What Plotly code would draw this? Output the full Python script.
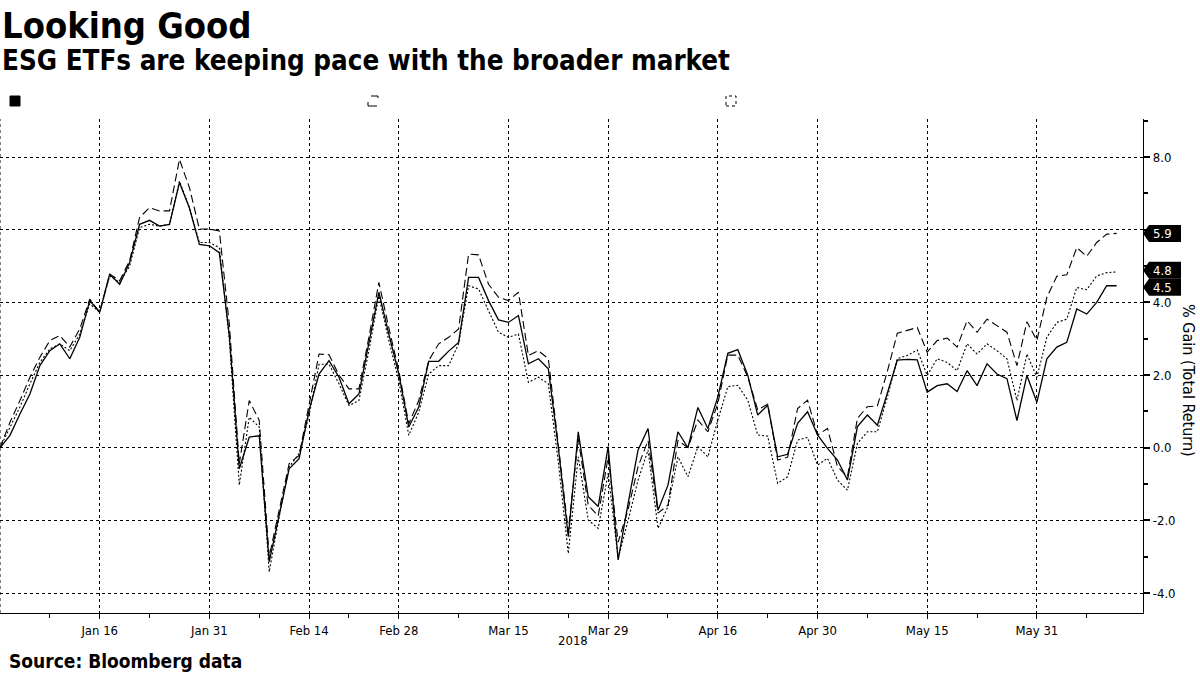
import pandas as pd
import plotly.graph_objects as go

# ---------------- data ----------------
holidays = ["2018-01-01", "2018-01-15", "2018-02-19", "2018-03-30", "2018-05-28"]
dates = [d for d in pd.bdate_range("2017-12-29", "2018-06-12").strftime("%Y-%m-%d") if d not in holidays]

solid = [0, 0.34, 0.93, 1.48, 2.26, 2.67, 2.86, 2.45, 3.04, 4.05, 3.73, 4.78, 4.5, 5.1, 6.15, 6.26, 6.1, 6.15,
         7.3, 6.6, 5.6, 5.56, 5.37, 3.1, -0.58, 0.29, 0.33, -3.14, -1.86, -0.58, -0.3, 1.03, 2.03, 2.4, 1.94,
         1.21, 1.48, 2.86, 4.28, 3.13, 2.03, 0.57, 1.12, 2.38, 2.38, 2.66, 2.9, 4.69, 4.69, 4.05, 3.52, 3.45,
         3.64, 2.31, 2.45, 2.17, 0.0, -2.45, 0.44, -1.35, -1.62, 0.03, -3.09, -1.53, -0.06, 0.53, -1.72, -1.03,
         0.44, 0.0, 1.11, 0.53, 1.4, 2.6, 2.7, 2.0, 0.9, 1.17, -0.25, -0.18, 0.67, 0.99, 0.35, -0.02, -0.34,
         -0.89, 0.58, 0.9, 0.62, 1.5, 2.41, 2.43, 2.42, 1.53, 1.71, 1.76, 1.55, 2.12, 1.71, 2.31, 2.03, 1.9,
         0.75, 1.99, 1.25, 2.45, 2.77, 2.9, 3.82, 3.68, 4.0, 4.46, 4.46]

dashed = [0, 0.7, 1.3, 1.94, 2.49, 2.95, 3.09, 2.77, 3.27, 4.09, 3.73, 4.78, 4.6, 5.15, 6.34, 6.61, 6.52, 6.52,
          7.94, 7.16, 6.02, 6.02, 5.97, 3.4, -0.44, 1.3, 0.75, -3.0, -1.72, -0.44, -0.21, 1.2, 2.58, 2.56, 2.0,
          1.62, 1.62, 3.04, 4.55, 3.3, 2.12, 0.66, 1.3, 2.4, 2.86, 3.04, 3.27, 5.33, 5.31, 4.5, 4.14, 4.05,
          4.28, 2.54, 2.67, 2.45, 0.1, -2.3, 0.25, -1.58, -1.88, -0.25, -2.6, -1.7, -0.52, 0.2, -1.8, -1.58,
          0.2, 0.0, 0.76, 0.44, 1.22, 2.55, 2.55, 1.95, 1.04, 1.2, -0.34, -0.26, 1.08, 1.31, 0.35, 0.53, -0.52,
          -0.8, 0.81, 1.13, 1.15, 2.1, 3.15, 3.24, 3.31, 2.63, 2.95, 3.02, 2.77, 3.5, 3.18, 3.54, 3.36, 3.18,
          2.26, 3.47, 2.95, 4.14, 4.72, 4.76, 5.51, 5.27, 5.65, 5.88, 5.9]

dotted = [0, 0.57, 1.12, 1.76, 2.35, 2.72, 2.86, 2.67, 3.13, 3.96, 3.73, 4.73, 4.55, 5.0, 6.06, 6.15, 6.1, 6.15,
          7.34, 6.61, 5.65, 5.65, 5.51, 3.0, -1.03, 0.84, 0.57, -3.42, -1.9, -0.53, -0.16, 0.9, 2.3, 2.3, 1.76,
          1.16, 1.3, 2.67, 4.18, 2.95, 1.85, 0.34, 0.98, 2.03, 2.26, 2.26, 2.86, 4.46, 4.37, 3.77, 3.18, 3.04,
          3.13, 1.8, 1.94, 1.76, -0.4, -2.91, -0.25, -1.99, -2.22, -0.7, -3.05, -2.0, -0.89, -0.06, -2.22, -1.62,
          -0.25, -0.8, 0.03, -0.25, 0.76, 1.68, 1.72, 1.31, 0.35, 0.32, -0.98, -0.8, 0.21, 0.28, -0.48, -0.29, -0.89,
          -1.17, 0.12, 0.44, 0.44, 1.39, 2.45, 2.54, 2.69, 1.99, 2.45, 2.35, 2.12, 2.86, 2.58, 2.86, 2.67, 2.45,
          1.3, 2.58, 1.94, 3.04, 3.45, 3.54, 4.41, 4.35, 4.73, 4.82, 4.84]

tick_dates = ["2018-01-16", "2018-01-31", "2018-02-14", "2018-02-28", "2018-03-15",
              "2018-03-29", "2018-04-16", "2018-04-30", "2018-05-15", "2018-05-31"]
tick_labels = ["Jan 16", "Jan 31", "Feb 14", "Feb 28", "Mar 15", "Mar 29", "Apr 16", "Apr 30", "May 15", "May 31"]
minor_dates = ["2018-01-08", "2018-01-23", "2018-02-07", "2018-02-21", "2018-03-08", "2018-03-23",
               "2018-04-09", "2018-04-23", "2018-05-07", "2018-05-22", "2018-06-07"]

y_tickvals = [-4, -2, 0, 2, 4, 6, 8]
y_ticktext = ["-4.0", "-2.0", "0.0", "2.0", "4.0", "", "8.0"]  # 6.0 is hidden behind the 5.9 flag

last_labels = ["5.9", "4.8", "4.5"]

# ---------------- geometry helpers ----------------
W, H = 1200, 675
L, R, T, B = 0, 1143, 119, 613
PW, PH = R - L, B - T


def px(x):
    return (x - L) / PW


def py(y):
    return (B - y) / PH


FONT = "DejaVu Sans Condensed, DejaVu Sans, sans-serif"

xi = list(range(len(dates)))
fig = go.Figure()
fig.add_trace(go.Scatter(x=xi, y=solid, mode="lines", line=dict(color="black", width=1.3), showlegend=False))
fig.add_trace(go.Scatter(x=xi, y=dashed, mode="lines", line=dict(color="black", width=1.1, dash="8px,4px"), showlegend=False))
fig.add_trace(go.Scatter(x=xi, y=dotted, mode="lines", line=dict(color="black", width=1.1, dash="2px,2px"), showlegend=False))

x_max = (R - L) / 9.97
y_rng = [-4.55, 9.05]

fig.update_layout(
    width=W, height=H,
    margin=dict(l=L, r=W - R, t=T, b=H - B, pad=0),
    paper_bgcolor="white", plot_bgcolor="white",
    font=dict(family=FONT, color="black", size=13),
    showlegend=False,
    xaxis=dict(
        range=[0, x_max], tickmode="array",
        tickvals=[dates.index(d) for d in tick_dates], ticktext=tick_labels,
        ticks="outside", ticklen=5, tickcolor="black", tickwidth=1,
        showgrid=True, gridcolor="black", griddash="dot", gridwidth=1,
        showline=True, linecolor="black", linewidth=1.3, zeroline=False,
        tickfont=dict(size=13, family=FONT),
        minor=dict(tickmode="array", tickvals=[dates.index(d) for d in minor_dates],
                   ticks="outside", ticklen=4, tickcolor="black", showgrid=False),
    ),
    yaxis=dict(
        side="right", range=y_rng, tickmode="array",
        tickvals=y_tickvals, ticktext=y_ticktext,
        ticks="outside", ticklen=6, tickcolor="black", tickwidth=1.5,
        showgrid=True, gridcolor="black", griddash="dot", gridwidth=1,
        showline=True, linecolor="black", linewidth=1.3, zeroline=False,
        tickfont=dict(size=13, family=FONT),
        minor=dict(tickmode="array", tickvals=[-3, -1, 1, 3, 5, 7, 9],
                   ticks="outside", ticklen=4, tickcolor="black", showgrid=False),
    ),
)

shapes = []
# left border dotted
shapes.append(dict(type="line", xref="paper", yref="paper", x0=0, x1=0, y0=0, y1=1,
                   line=dict(color="black", width=1, dash="dot")))


# legend swatches
def sq(x0, dash, fill):
    return dict(type="rect", xref="paper", yref="paper", x0=px(x0), x1=px(x0 + 10), y0=py(106), y1=py(96),
                line=dict(color="black", width=1, dash=dash), fillcolor=fill)


shapes.append(sq(10, "solid", "black"))
shapes.append(sq(368, "dash", "white"))
shapes.append(sq(726, "dot", "white"))

# end-value flags
box_h = 17 / PH * (y_rng[1] - y_rng[0])  # box height in data units
mid = (dotted[-1] + solid[-1]) / 2
centers = [dashed[-1], mid + box_h / 2, mid - box_h / 2]
for c in centers:
    y0, y1 = c - box_h / 2, c + box_h / 2
    path = (f"M {px(1143)} {c} L {px(1149)} {y1} L {px(1181)} {y1} "
            f"L {px(1181)} {y0} L {px(1149)} {y0} Z")
    shapes.append(dict(type="path", xref="paper", yref="y", path=path,
                       fillcolor="black", line=dict(color="black", width=0)))

annotations = []
for c, lab in zip(centers, last_labels):
    annotations.append(dict(x=px(1151), y=c, xref="paper", yref="y", text=lab, showarrow=False,
                            xanchor="left", yanchor="middle", font=dict(color="white", size=13, family=FONT)))

annotations += [
    dict(x=px(0), y=py(25), xref="paper", yref="paper", text="<b>Looking Good</b>", showarrow=False,
         xanchor="left", yanchor="middle", font=dict(size=36, family=FONT)),
    dict(x=px(0), y=py(60), xref="paper", yref="paper",
         text="<b>ESG ETFs are keeping pace with the broader market</b>", showarrow=False,
         xanchor="left", yanchor="middle", font=dict(size=27.5, family=FONT)),
    dict(x=px(7), y=py(661), xref="paper", yref="paper", text="<b>Source: Bloomberg data</b>", showarrow=False,
         xanchor="left", yanchor="middle", font=dict(size=19, family=FONT)),
    dict(x=px(573), y=py(640), xref="paper", yref="paper", text="2018", showarrow=False,
         xanchor="center", yanchor="middle", font=dict(size=13, family=FONT)),
    dict(x=px(1188), y=py(380), xref="paper", yref="paper", text="% Gain (Total Return)", showarrow=False,
         textangle=90, xanchor="center", yanchor="middle", font=dict(size=16, family=FONT)),
]

fig.update_layout(shapes=shapes, annotations=annotations)
fig.write_html("out.html")
